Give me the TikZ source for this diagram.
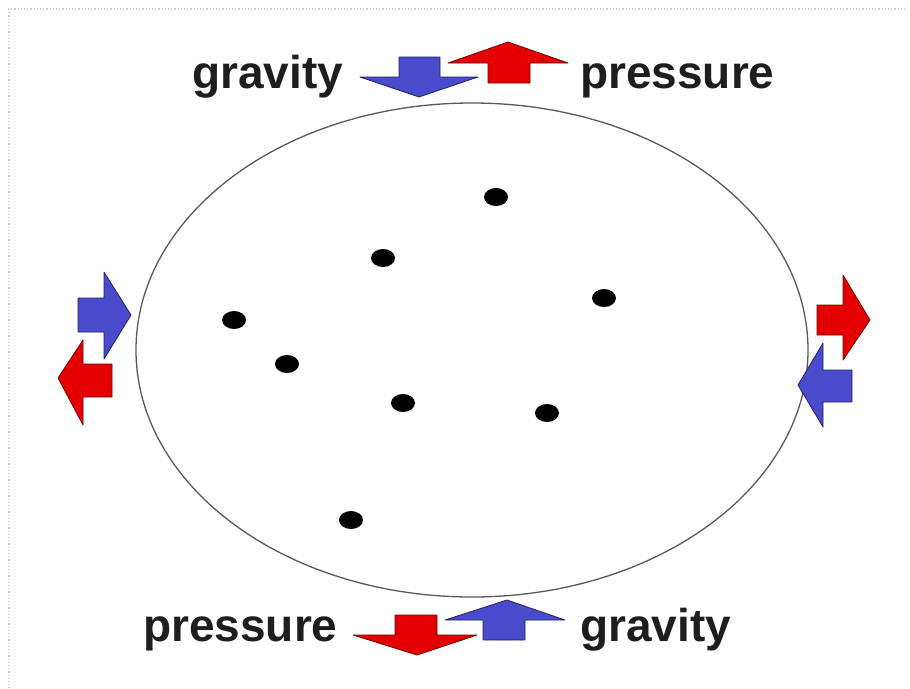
\documentclass[tikz,border=0pt]{standalone}
\usepackage{fontspec}
\setmainfont{Liberation Sans}
\definecolor{bluef}{HTML}{4A4ACC}
\definecolor{bluel}{HTML}{22225E}
\definecolor{redf}{HTML}{E40000}
\definecolor{redl}{HTML}{6A0A0A}
\definecolor{txt}{HTML}{1E1E1E}
\begin{document}
\begin{tikzpicture}[x=1pt,y=-1pt,
  lbl/.style={inner sep=0pt,anchor=base west,text=txt,font=\fontsize{46}{50}\selectfont\bfseries},
  barb/.style={draw=bluel,fill=bluef,line width=0.8pt,line join=round},
  rarb/.style={draw=redl,fill=redf,line width=0.8pt,line join=round},
  dot/.style={fill=black}]
\useasboundingbox (0,0) rectangle (910,688);
\fill[white] (0,0) rectangle (910,688);
% faint dotted frame
\draw[gray!35,dotted,line width=1.2pt] (8,9) -- (905,9);
\draw[gray!35,dotted,line width=1.2pt] (9,9) -- (9,688);
% ellipse
\draw[gray!70!black,line width=1.3pt] (472,350) ellipse [x radius=336,y radius=247];
% dots
\foreach \p in {(496,197),(383,258),(604,298),(234,320),(287,364),(403,403),(547,413),(351,520)}
  \fill[dot] \p ellipse [x radius=12,y radius=9];
% labels
\node[lbl] (g1) at (192,88) {gravity};
\node[lbl] (p1) at (580,88) {pressure};
\node[lbl] (p2) at (143,641) {pressure};
\node[lbl] (g2) at (580,641) {gravity};
% top arrows
\draw[barb] (399,57) -- (440,57) -- (440,77) -- (478,77) -- (419,97) -- (360,77) -- (399,77) -- cycle;
\draw[rarb] (488,83) -- (530,83) -- (530,63) -- (568,63) -- (508,42) -- (448,63) -- (488,63) -- cycle;
% bottom arrows
\draw[rarb] (395,615) -- (437,615) -- (437,635) -- (477,635) -- (417,655) -- (353,635) -- (395,635) -- cycle;
\draw[barb] (483,640) -- (525,640) -- (525,620) -- (565,620) -- (507,600) -- (445,620) -- (483,620) -- cycle;
% left arrows
\draw[barb] (78,298) -- (104,298) -- (104,272) -- (131,315) -- (104,359) -- (104,332) -- (78,332) -- cycle;
\draw[rarb] (112,364) -- (83,364) -- (83,340) -- (58,378) -- (83,425) -- (83,397) -- (112,397) -- cycle;
% right arrows
\draw[rarb] (817,305) -- (843,305) -- (843,275) -- (870,320) -- (843,360) -- (843,335) -- (817,335) -- cycle;
\draw[barb] (852,370) -- (823,370) -- (823,343) -- (798,385) -- (823,427) -- (823,402) -- (852,402) -- cycle;
\end{tikzpicture}
\end{document}
